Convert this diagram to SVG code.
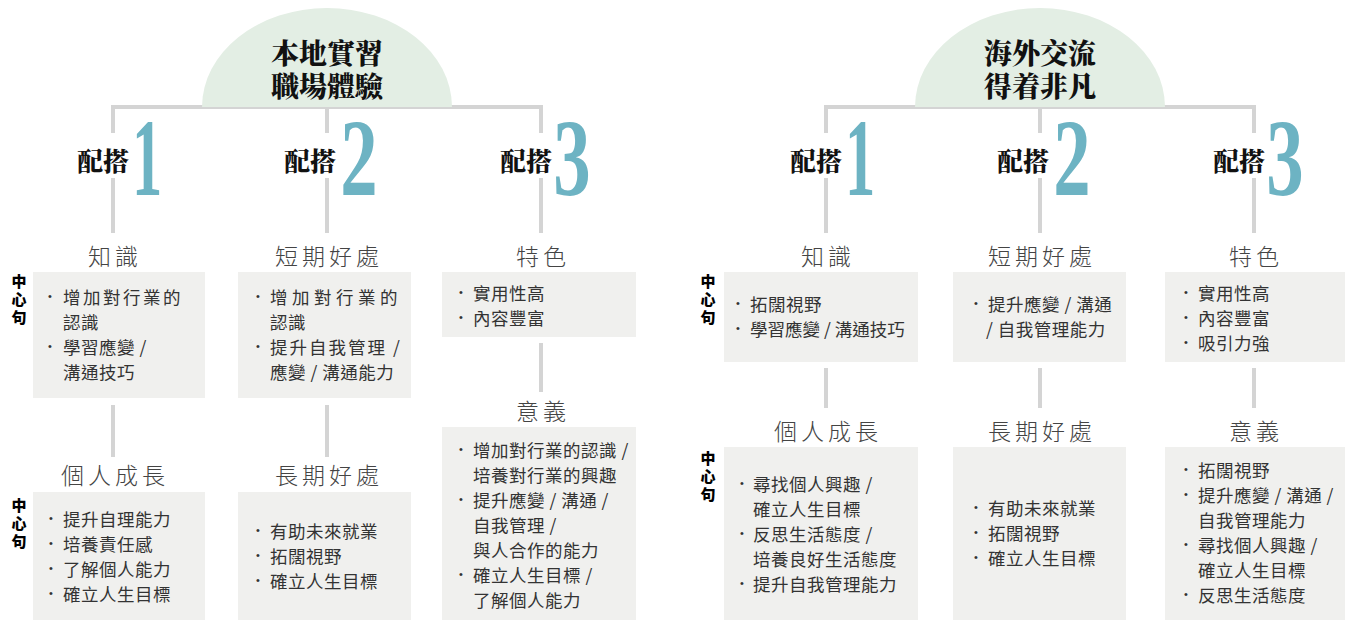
<svg xmlns="http://www.w3.org/2000/svg" width="1350" height="633" viewBox="0 0 1350 633">
<style>
.bg{fill:#ffffff}
.dome{fill:#e3eee4}
.title{font-family:"Noto Serif CJK TC","Noto Sans CJK TC",serif;font-weight:900;font-size:28px;fill:#111;text-anchor:middle}
.pei{font-family:"Noto Serif CJK TC","Noto Sans CJK TC",serif;font-weight:900;font-size:26px;fill:#111;text-anchor:middle}
.num{font-family:"Liberation Serif","DejaVu Serif",serif;font-weight:700;font-size:110px;fill:#6db3c3;text-anchor:middle}
.ln{stroke:#d4d4d4;stroke-width:4;fill:none}
.box{fill:#f0f0ee}
.head{font-family:"Noto Sans CJK TC",sans-serif;font-weight:300;font-size:23px;fill:#444;letter-spacing:4px;text-anchor:middle}
.body{font-family:"Noto Sans CJK TC",sans-serif;font-size:17.5px;fill:#333;letter-spacing:0.5px}
.bul{font-family:"Liberation Sans",sans-serif;font-size:11px;fill:#333}
.key{font-family:"Noto Sans CJK TC",sans-serif;font-weight:900;font-size:15px;fill:#000;writing-mode:vertical-rl;letter-spacing:3px}
</style>
<rect class="bg" x="0" y="0" width="1350" height="633"/>

<g id="connectors">
  <path class="ln" d="M113 107 H541 M113 105 V133 M327 107 V133 M541 105 V133 M113 178 V233 M327 178 V233 M541 178 V233 M113 405 V457 M327 405 V457 M541 343 V392"/>
  <path class="ln" d="M826 107 H1254 M826 105 V133 M1040 107 V133 M1254 105 V133 M826 178 V233 M1040 178 V233 M1254 178 V233 M826 368 V408 M1040 368 V408 M1254 368 V408"/>
</g>

<g id="root-left">
  <path class="dome" d="M202 107 A125 99 0 0 1 452 107 Z"/>
  <text class="title" x="327" y="64">本地實習<tspan x="327" dy="33">職場體驗</tspan></text>
</g>
<g id="root-right">
  <path class="dome" d="M915 107 A125 99 0 0 1 1165 107 Z"/>
  <text class="title" x="1040" y="64">海外交流<tspan x="1040" dy="33">得着非凡</tspan></text>
</g>

<g id="key-labels">
  <text class="key" x="19" y="274">中心句</text>
  <text class="key" x="19" y="498">中心句</text>
  <text class="key" x="708" y="274">中心句</text>
  <text class="key" x="708" y="451">中心句</text>
</g>

<!-- LEFT column 1 -->
<g id="L-pair1">
  <text class="pei" x="103" y="171">配搭</text>
  <text class="num" transform="translate(147,195) scale(0.55,1)">1</text>
</g>
<g id="L-knowledge">
  <text class="head" x="115" y="265">知識</text>
  <rect class="box" x="33" y="272" width="172" height="126"/>
  <text class="bul" x="48" y="300">•</text><text class="body" x="63" y="304" style="letter-spacing:2.5px">增加對行業的</text>
  <text class="body" x="63" y="329">認識</text>
  <text class="bul" x="48" y="350">•</text><text class="body" x="63" y="354">學習應變 /</text>
  <text class="body" x="63" y="379">溝通技巧</text>
</g>
<g id="L-growth">
  <text class="head" x="115" y="484">個人成長</text>
  <rect class="box" x="33" y="492" width="172" height="128"/>
  <text class="bul" x="49" y="522">•</text><text class="body" x="63" y="526">提升自理能力</text>
  <text class="bul" x="49" y="547">•</text><text class="body" x="63" y="551">培養責任感</text>
  <text class="bul" x="49" y="572">•</text><text class="body" x="63" y="576">了解個人能力</text>
  <text class="bul" x="49" y="597">•</text><text class="body" x="63" y="601">確立人生目標</text>
</g>

<!-- LEFT column 2 -->
<g id="L-pair2">
  <text class="pei" x="310" y="171">配搭</text>
  <text class="num" transform="translate(359,195) scale(0.68,1)">2</text>
</g>
<g id="L-short">
  <text class="head" x="329" y="265">短期好處</text>
  <rect class="box" x="238" y="272" width="173" height="126"/>
  <text class="bul" x="256" y="300">•</text><text class="body" x="270" y="304" style="letter-spacing:4.5px">增加對行業的</text>
  <text class="body" x="270" y="329">認識</text>
  <text class="bul" x="256" y="350">•</text><text class="body" x="270" y="354" style="letter-spacing:2px">提升自我管理 /</text>
  <text class="body" x="270" y="379">應變 / 溝通能力</text>
</g>
<g id="L-long">
  <text class="head" x="329" y="484">長期好處</text>
  <rect class="box" x="238" y="492" width="173" height="128"/>
  <text class="bul" x="256" y="534">•</text><text class="body" x="270" y="538">有助未來就業</text>
  <text class="bul" x="256" y="559">•</text><text class="body" x="270" y="563">拓闊視野</text>
  <text class="bul" x="256" y="584">•</text><text class="body" x="270" y="588">確立人生目標</text>
</g>

<!-- LEFT column 3 -->
<g id="L-pair3">
  <text class="pei" x="526" y="171">配搭</text>
  <text class="num" transform="translate(572,195) scale(0.68,1)">3</text>
</g>
<g id="L-feature">
  <text class="head" x="543" y="265">特色</text>
  <rect class="box" x="442" y="272" width="194" height="65"/>
  <text class="bul" x="459" y="296">•</text><text class="body" x="473" y="300">實用性高</text>
  <text class="bul" x="459" y="321">•</text><text class="body" x="473" y="325">內容豐富</text>
</g>
<g id="L-meaning">
  <text class="head" x="543" y="420">意義</text>
  <rect class="box" x="442" y="427" width="194" height="193"/>
  <text class="bul" x="459" y="453">•</text><text class="body" x="473" y="457">增加對行業的認識 /</text>
  <text class="body" x="473" y="482">培養對行業的興趣</text>
  <text class="bul" x="459" y="503">•</text><text class="body" x="473" y="507">提升應變 / 溝通 /</text>
  <text class="body" x="473" y="532">自我管理 /</text>
  <text class="body" x="473" y="557">與人合作的能力</text>
  <text class="bul" x="459" y="578">•</text><text class="body" x="473" y="582">確立人生目標 /</text>
  <text class="body" x="473" y="607">了解個人能力</text>
</g>

<!-- RIGHT column 1 -->
<g id="R-pair1">
  <text class="pei" x="816" y="171">配搭</text>
  <text class="num" transform="translate(860,195) scale(0.55,1)">1</text>
</g>
<g id="R-knowledge">
  <text class="head" x="828" y="265">知識</text>
  <rect class="box" x="724" y="272" width="194" height="90"/>
  <text class="bul" x="736" y="307">•</text><text class="body" x="750" y="311">拓闊視野</text>
  <text class="bul" x="736" y="332">•</text><text class="body" x="750" y="336" style="letter-spacing:0px">學習應變 / 溝通技巧</text>
</g>
<g id="R-growth">
  <text class="head" x="828" y="440">個人成長</text>
  <rect class="box" x="724" y="447" width="194" height="173"/>
  <text class="bul" x="740" y="487">•</text><text class="body" x="753" y="491">尋找個人興趣 /</text>
  <text class="body" x="753" y="516">確立人生目標</text>
  <text class="bul" x="740" y="537">•</text><text class="body" x="753" y="541">反思生活態度 /</text>
  <text class="body" x="753" y="566">培養良好生活態度</text>
  <text class="bul" x="740" y="587">•</text><text class="body" x="753" y="591">提升自我管理能力</text>
</g>

<!-- RIGHT column 2 -->
<g id="R-pair2">
  <text class="pei" x="1023" y="171">配搭</text>
  <text class="num" transform="translate(1072,195) scale(0.68,1)">2</text>
</g>
<g id="R-short">
  <text class="head" x="1042" y="265">短期好處</text>
  <rect class="box" x="953" y="272" width="173" height="90"/>
  <text class="bul" x="974" y="307">•</text><text class="body" x="988" y="311">提升應變 / 溝通</text>
  <text class="body" x="986" y="336">/ 自我管理能力</text>
</g>
<g id="R-long">
  <text class="head" x="1042" y="440">長期好處</text>
  <rect class="box" x="953" y="447" width="173" height="173"/>
  <text class="bul" x="974" y="511">•</text><text class="body" x="988" y="515">有助未來就業</text>
  <text class="bul" x="974" y="536">•</text><text class="body" x="988" y="540">拓闊視野</text>
  <text class="bul" x="974" y="561">•</text><text class="body" x="988" y="565">確立人生目標</text>
</g>

<!-- RIGHT column 3 -->
<g id="R-pair3">
  <text class="pei" x="1239" y="171">配搭</text>
  <text class="num" transform="translate(1285,195) scale(0.68,1)">3</text>
</g>
<g id="R-feature">
  <text class="head" x="1256" y="265">特色</text>
  <rect class="box" x="1165" y="272" width="180" height="90"/>
  <text class="bul" x="1184" y="296">•</text><text class="body" x="1198" y="300">實用性高</text>
  <text class="bul" x="1184" y="321">•</text><text class="body" x="1198" y="325">內容豐富</text>
  <text class="bul" x="1184" y="346">•</text><text class="body" x="1198" y="350">吸引力強</text>
</g>
<g id="R-meaning">
  <text class="head" x="1256" y="440">意義</text>
  <rect class="box" x="1165" y="447" width="180" height="173"/>
  <text class="bul" x="1184" y="473">•</text><text class="body" x="1198" y="477">拓闊視野</text>
  <text class="bul" x="1184" y="498">•</text><text class="body" x="1198" y="502">提升應變 / 溝通 /</text>
  <text class="body" x="1198" y="527">自我管理能力</text>
  <text class="bul" x="1184" y="548">•</text><text class="body" x="1198" y="552">尋找個人興趣 /</text>
  <text class="body" x="1198" y="577">確立人生目標</text>
  <text class="bul" x="1184" y="598">•</text><text class="body" x="1198" y="602">反思生活態度</text>
</g>
</svg>
